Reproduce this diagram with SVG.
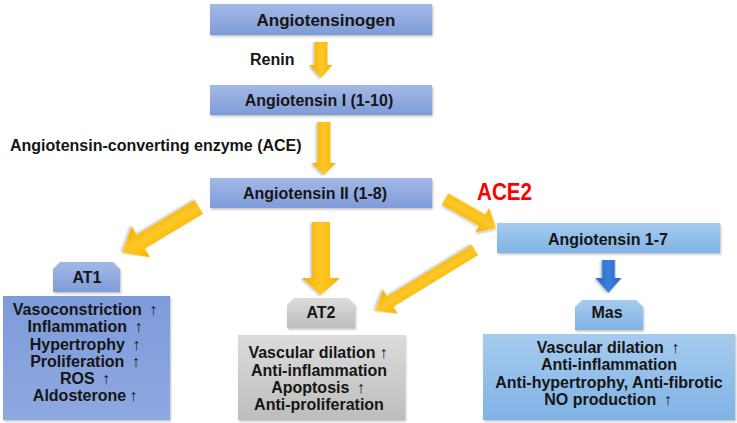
<svg xmlns="http://www.w3.org/2000/svg" width="737" height="423" viewBox="0 0 737 423">
<defs>
<linearGradient id="gBlue" x1="0" y1="0" x2="0" y2="1"><stop offset="0" stop-color="#A3B8E6"/><stop offset="1" stop-color="#7F9CD8"/></linearGradient>
<linearGradient id="gBlueBox" x1="0" y1="0" x2="0" y2="1"><stop offset="0" stop-color="#7E9BDA"/><stop offset="1" stop-color="#8EA8E0"/></linearGradient>
<linearGradient id="gLight" x1="0" y1="0" x2="0" y2="1"><stop offset="0" stop-color="#A6CBEE"/><stop offset="1" stop-color="#80B3E6"/></linearGradient>
<linearGradient id="gGray" x1="0" y1="0" x2="0" y2="1"><stop offset="0" stop-color="#DCDCDC"/><stop offset="1" stop-color="#BDBDBD"/></linearGradient>
<linearGradient id="gGold" x1="0" y1="0" x2="0" y2="1"><stop offset="0" stop-color="#F4B400"/><stop offset="0.5" stop-color="#FFC727"/><stop offset="1" stop-color="#F0AE00"/></linearGradient>
<linearGradient id="gBlueArrow" x1="0" y1="0" x2="0" y2="1"><stop offset="0" stop-color="#2563C4"/><stop offset="0.5" stop-color="#3C80DA"/><stop offset="1" stop-color="#2563C4"/></linearGradient>
<filter id="sh" x="-10%" y="-10%" width="130%" height="140%"><feDropShadow dx="1" dy="1.5" stdDeviation="1.2" flood-color="#000" flood-opacity="0.25"/></filter>
</defs>
<style>
text{font-family:"Liberation Sans","Noto Sans CJK JP",sans-serif;font-weight:bold;fill:#151515;font-size:16px}
.c{text-anchor:middle}
.ar{font-family:"Liberation Sans","DejaVu Sans",sans-serif;font-weight:normal}
.gold{fill:url(#gGold);filter:url(#sh)}
</style>
<rect width="737" height="423" fill="#fff"/>

<g id="connectors">
<path class="gold" transform="translate(321,42) rotate(90)" d="M0,-6.5 H23 V-11.5 L36,0 L23,11.5 V6.5 H0 Z"/>
<path class="gold" transform="translate(324,122) rotate(90)" d="M0,-6.5 H41 V-12 L53,0 L41,12 V6.5 H0 Z"/>
<path class="gold" transform="translate(321,222) rotate(90)" d="M0,-9 H56 V-19 L73,0 L56,19 V9 H0 Z"/>
<path class="gold" transform="translate(199,207) rotate(149.1)" d="M0,-8 H67.7 V-18 L89.7,0 L67.7,18 V8 H0 Z"/>
<path class="gold" transform="translate(445,199) rotate(29.6)" d="M0,-6.5 H42.7 V-14 L58.7,0 L42.7,14 V6.5 H0 Z"/>
<path class="gold" transform="translate(475,250) rotate(148.6)" d="M0,-6 H99.1 V-14 L117.1,0 L99.1,14 V6 H0 Z"/>
<path fill="url(#gBlueArrow)" filter="url(#sh)" transform="translate(608.5,260) rotate(90)" d="M0,-6.5 H18 V-13 L33,0 L18,13 V6.5 H0 Z"/>
<text x="250" y="65">Renin</text>
<text x="10" y="151">Angiotensin-converting enzyme (ACE)</text>
<text x="477" y="200" style="fill:#FF0000;font-size:23px" textLength="55" lengthAdjust="spacingAndGlyphs">ACE2</text>
</g>

<g id="angiotensinogen">
<rect x="210" y="4" width="222" height="31" fill="url(#gBlue)" filter="url(#sh)"/>
<text class="c" x="326" y="26" style="font-size:17px">Angiotensinogen</text>
</g>
<g id="angiotensin1">
<rect x="210" y="85" width="222" height="30" fill="url(#gBlue)" filter="url(#sh)"/>
<text class="c" x="319" y="106">Angiotensin I (1-10)</text>
</g>
<g id="angiotensin2">
<rect x="210" y="178" width="222" height="30" fill="url(#gBlue)" filter="url(#sh)"/>
<text class="c" x="315" y="199">Angiotensin II (1-8)</text>
</g>
<g id="angiotensin17">
<rect x="497" y="223" width="223" height="30" fill="url(#gLight)" filter="url(#sh)"/>
<text class="c" x="608" y="245">Angiotensin 1-7</text>
</g>

<g id="at1">
<path d="M53,292 V269 L60,262 H113 L120,269 V292 Z" fill="url(#gBlue)" filter="url(#sh)"/>
<text class="c" x="87" y="283">AT1</text>
<rect x="3" y="296" width="167" height="124" fill="url(#gBlueBox)" filter="url(#sh)"/>
<text class="c" x="85" y="315">Vasoconstriction <tspan class="ar" dx="3">↑</tspan></text>
<text class="c" x="85" y="332">Inflammation <tspan class="ar" dx="3">↑</tspan></text>
<text class="c" x="85" y="349.5">Hypertrophy <tspan class="ar" dx="3">↑</tspan></text>
<text class="c" x="85" y="366.5">Proliferation <tspan class="ar" dx="3">↑</tspan></text>
<text class="c" x="85" y="384">ROS <tspan class="ar" dx="3">↑</tspan></text>
<text class="c" x="85" y="401">Aldosterone<tspan class="ar" dx="3">↑</tspan></text>
</g>

<g id="at2">
<path d="M287,328 V305 L294,298 H348 L355,305 V328 Z" fill="url(#gGray)" filter="url(#sh)"/>
<text class="c" x="321" y="318">AT2</text>
<rect x="238" y="335" width="167" height="85" fill="url(#gGray)" filter="url(#sh)"/>
<text class="c" x="318" y="358">Vascular dilation<tspan class="ar" dx="4">↑</tspan></text>
<text class="c" x="319" y="375.5">Anti-inflammation</text>
<text class="c" x="318" y="393">Apoptosis <tspan class="ar" dx="3">↑</tspan></text>
<text class="c" x="319" y="410">Anti-proliferation</text>
</g>

<g id="mas">
<path d="M575,330 V307 L582,300 H636 L643,307 V330 Z" fill="url(#gLight)" filter="url(#sh)"/>
<text class="c" x="607" y="318">Mas</text>
<rect x="483" y="334" width="252" height="86" fill="url(#gLight)" filter="url(#sh)"/>
<text class="c" x="608" y="352.5">Vascular dilation <tspan class="ar" dx="3">↑</tspan></text>
<text class="c" x="609" y="370">Anti-inflammation</text>
<text class="c" x="609" y="387.5">Anti-hypertrophy, Anti-fibrotic</text>
<text class="c" x="608" y="405">NO production <tspan class="ar" dx="3">↑</tspan></text>
</g>
</svg>
